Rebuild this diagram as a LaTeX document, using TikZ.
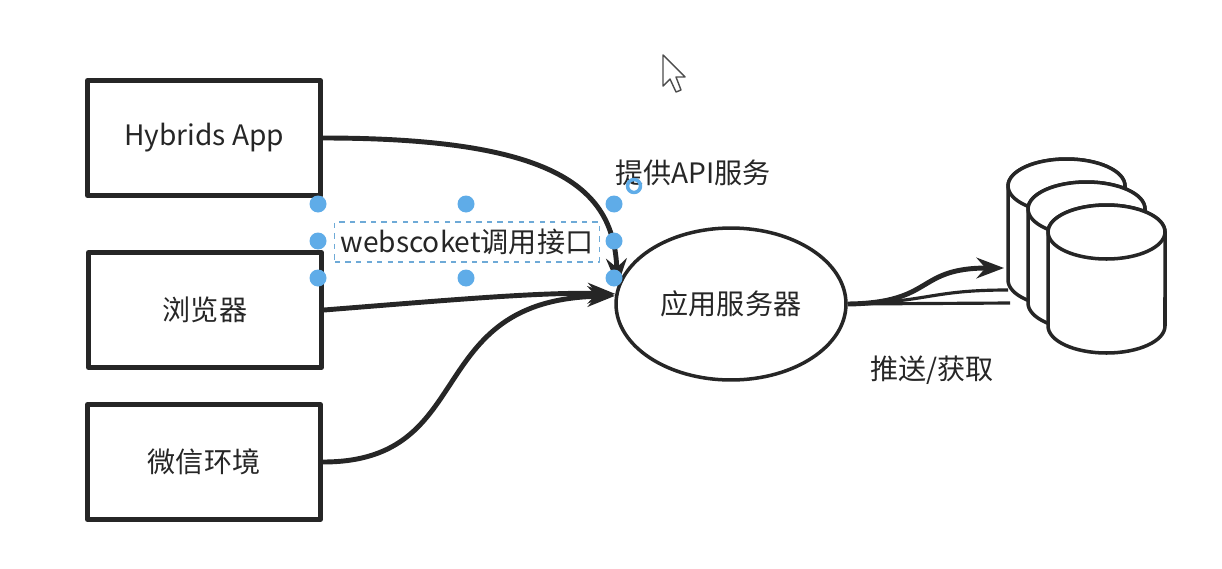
\documentclass[tikz,border=0pt]{standalone}
\usepackage{fontspec}
\setmainfont{Noto Sans CJK SC}
\usetikzlibrary{arrows.meta,shapes.geometric}

\definecolor{ink}{RGB}{38,38,38}
\definecolor{handle}{RGB}{95,172,232}
\definecolor{selbox}{RGB}{110,170,215}

\begin{document}
\begin{tikzpicture}[x=0.02cm, y=-0.02cm, >=Stealth, line join=round,
  font=\fontsize{16}{19}\selectfont, text=ink,
  client/.style={draw=ink, line width=2.8pt, minimum width=4.66cm, minimum height=2.3cm},
  link/.style={draw=ink, line width=2.8pt},
  grip/.style={circle, fill=handle, inner sep=0pt, minimum size=0.34cm},
  drum/.style={draw=ink, line width=2pt, fill=white}]

\useasboundingbox (0,0) rectangle (1222,568);

% clients
\node[client] (app) at (204,138) {Hybrids App};
\node[client] (browser) at (205,310) {浏览器};
\node[client] (wechat) at (204,462) {微信环境};

% server
\node[ellipse, draw=ink, line width=2pt, minimum width=4.6cm, minimum height=3.04cm] (srv) at (731,304) {应用服务器};
\node (api) at (693,173) {提供API服务};
\node (push) at (932,370) {推送/获取};

% database
\foreach \dx/\dy in {0/0,20/23,40/46}{
  \begin{scope}[shift={(\dx,\dy)}]
    \draw[drum] (1008,186) -- (1008,280)
      arc[start angle=180, end angle=360, x radius=1.17cm, y radius=0.54cm] -- (1125,186)
      arc[start angle=0, end angle=180, x radius=1.17cm, y radius=0.54cm] -- cycle;
    \draw[drum] (1066.5,186) ellipse[x radius=1.17cm, y radius=0.54cm];
  \end{scope}
}
\coordinate (dbin) at (1004,268);
\coordinate (dbmid) at (1008,290);
\coordinate (dblow) at (1010,303);

% connectors
\draw[link,->] (app.east) .. controls (560,138) and (614,190) .. (srv.171);
\draw[link,->] (browser.east) .. controls (450,300) and (540,292) .. (srv.175);
\draw[link,->] (wechat.east) .. controls (480,462) and (420,300) .. (srv.176);

\draw[link,->] (srv.east) .. controls (935,303) and (915,268) .. (dbin);
\draw[link, line width=1.8pt] (srv.east) .. controls (930,302) and (930,290) .. (dbmid);
\draw[link, line width=1.8pt] (srv.east) -- (dblow);

% selected label
\node[draw=selbox, dashed, line width=0.6pt, minimum width=5.22cm, minimum height=0.8cm] (ws) at (467,242) {webscoket调用接口};
\foreach \hx/\hy in {318/204,466/204,614/204,318/241,614/241,318/278,466/278,614/278}
  \node[grip] (h\hx-\hy) at (\hx,\hy) {};
\node[circle, draw=handle, line width=2pt, minimum size=0.26cm, inner sep=0pt] (rot) at (634,186) {};

% pointer
\draw[gray!60!black, line width=0.8pt, fill=white] (663,55) -- (663,86) -- (670,79) -- (676,92)
  -- (681,90) -- (676,77) -- (685,77) -- cycle;

\end{tikzpicture}
\end{document}
